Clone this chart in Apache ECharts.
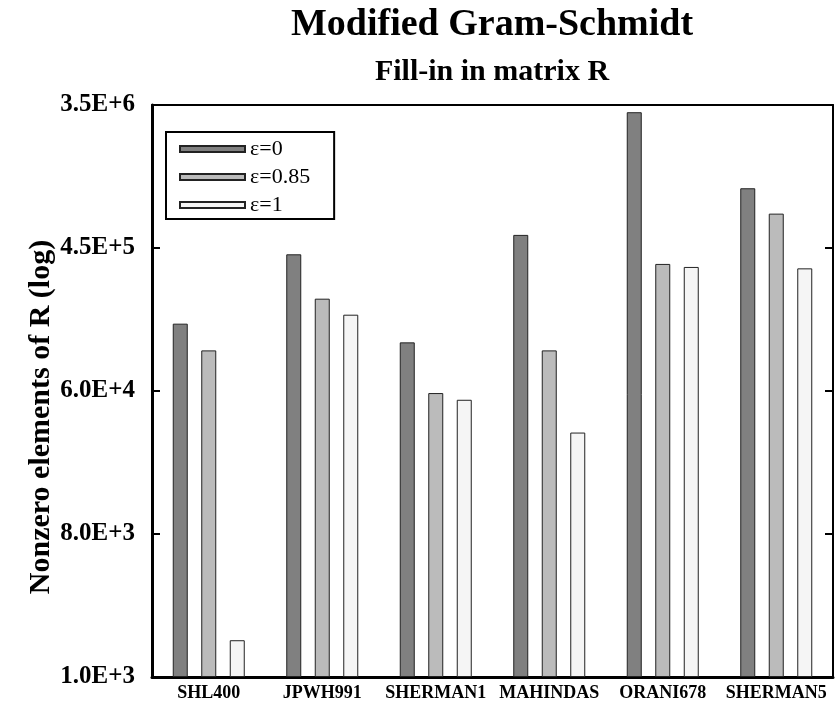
<!DOCTYPE html>
<html>
<head>
<meta charset="utf-8">
<script src="https://cdn.jsdelivr.net/npm/echarts@6/dist/echarts.min.js"></script>
<style>html,body{margin:0;padding:0;background:#fff}#c{width:835px;height:704px}</style>
</head>
<body>
<div id="c"></div>
<script>
const categories = ['SHL400', 'JPWH991', 'SHERMAN1', 'MAHINDAS', 'ORANI678', 'SHERMAN5'];
const seriesNames = ['\u03b5=0', '\u03b5=0.85', '\u03b5=1'];
const eps0 = [154600, 415900, 118400, 548600, 3158000, 1067000];
const eps085 = [105600, 220800, 57450, 105600, 362500, 743000];
const eps1 = [1690, 175700, 52200, 32700, 347300, 340400];
const tickLabels = ['1.0E+3', '8.0E+3', '6.0E+4', '4.5E+5', '3.5E+6'];
const axisMinValue = 1000;
const axisMaxValue = 3500000;

// log scale with equal steps between min and max
const steps = tickLabels.length - 1;
const logBase = Math.log(axisMaxValue / axisMinValue) / steps;
const toAxis = v => Math.log(v / axisMinValue) / logBase;

const colors = ['#808080', '#bbbbbb', '#f5f5f5'];
const FONT = 'Liberation Serif';
const allData = [eps0, eps085, eps1];

const chart = echarts.init(document.getElementById('c'), null, {renderer: 'canvas'});
chart.setOption({
  animation: false,
  backgroundColor: '#fff',
  title: [
    {text: 'Modified Gram-Schmidt', left: 492, top: 6, padding: 0, textAlign: 'center',
     textStyle: {fontFamily: FONT, fontWeight: 'bold', fontSize: 38, color: '#000'}},
    {text: 'Fill-in in matrix R', left: 492, top: 57, padding: 0, textAlign: 'center',
     textStyle: {fontFamily: FONT, fontWeight: 'bold', fontSize: 30, color: '#000'}}
  ],
  legend: {
    orient: 'vertical', left: 166, top: 132,
    padding: [6, 24, 3, 13],
    borderColor: '#000', borderWidth: 2, backgroundColor: '#fff',
    itemWidth: 65, itemHeight: 6, itemGap: 6,
    icon: 'rect',
    textStyle: {fontFamily: FONT, fontSize: 22, color: '#000'},
    data: seriesNames
  },
  grid: {left: 152, right: 2, top: 105, bottom: 27, containLabel: false},
  xAxis: [
    {type: 'category', data: categories, position: 'bottom',
     axisLine: {show: true, lineStyle: {color: '#000', width: 3}},
     axisTick: {show: false},
     axisLabel: {margin: 7, fontFamily: FONT, fontWeight: 'bold', fontSize: 18, color: '#000', interval: 0},
     splitLine: {show: false}},
    {type: 'category', data: categories, position: 'top',
     axisLine: {show: true, onZero: false, lineStyle: {color: '#000', width: 2}},
     axisTick: {show: false}, axisLabel: {show: false}, splitLine: {show: false}}
  ],
  yAxis: [
    {type: 'value', min: 0, max: steps, interval: 1, position: 'left',
     name: 'Nonzero elements of R (log)', nameLocation: 'middle', nameGap: 96,
     nameMoveOverlap: false,
     nameTextStyle: {fontFamily: FONT, fontWeight: 'bold', fontSize: 30, color: '#000',
       padding: [0, 52, 0, 0]},
     axisLine: {show: true, lineStyle: {color: '#000', width: 3}},
     axisTick: {show: true, inside: true, length: 8, lineStyle: {color: '#000', width: 2}},
     axisLabel: {margin: 17, fontFamily: FONT, fontWeight: 'bold', fontSize: 25, color: '#000',
       formatter: v => tickLabels[Math.round(v)]},
     splitLine: {show: false}},
    {type: 'value', min: 0, max: steps, interval: 1, position: 'right',
     axisLine: {show: true, onZero: false, lineStyle: {color: '#000', width: 2}},
     axisTick: {show: true, inside: true, length: 8, lineStyle: {color: '#000', width: 2}},
     axisLabel: {show: false}, splitLine: {show: false}}
  ],
  series: seriesNames.map((name, i) => ({
    name: name, type: 'bar', xAxisIndex: 0, yAxisIndex: 0,
    barWidth: 15, barGap: '90%',
    itemStyle: {color: colors[i], borderColor: '#222', borderWidth: 1},
    data: allData[i].map(toAxis)
  }))
});
</script>
</body>
</html>
